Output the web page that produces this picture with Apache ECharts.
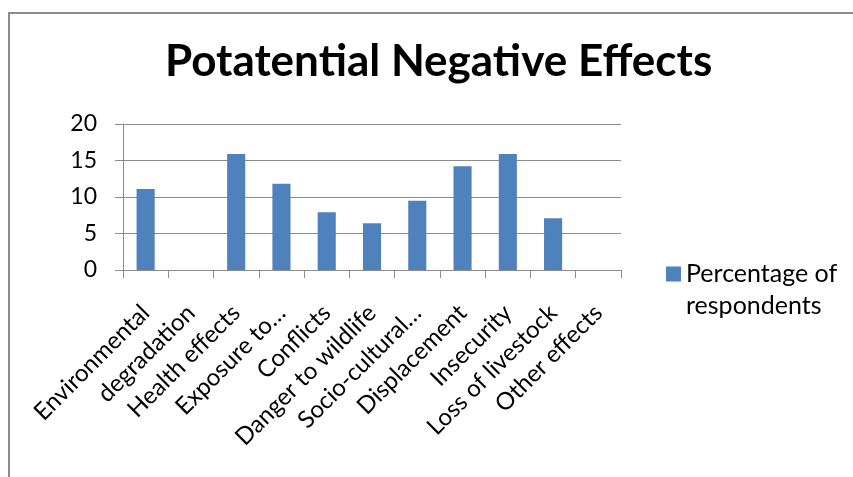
<!DOCTYPE html>
<html>
<head>
<meta charset="utf-8">
<script src="https://cdn.jsdelivr.net/npm/echarts@6/dist/echarts.min.js"></script>
<style>
  html, body { margin: 0; padding: 0; background: #ffffff; }
  #chart { width: 853px; height: 477px; }
</style>
</head>
<body>
<div id="chart"></div>
<script>
// Category labels along the horizontal axis
const categories = [
  'Environmental', 'degradation', 'Health effects', 'Exposure to…',
  'Conflicts', 'Danger to wildlife', 'Socio-cultural…', 'Displacement',
  'Insecurity', 'Loss of livestock', 'Other effects'
];
// Percentage of respondents per effect (empty slots have no bar)
const percentages = [11.1, null, 15.9, 11.8, 7.9, 6.4, 9.5, 14.2, 15.9, 7.1, null];
// Value axis tick labels
const yTicks = [0, 5, 10, 15, 20];

const seriesName = 'Percentage of respondents';
const font = 'Lato';

// Legend swatch: a 15px square at the top of a box two text lines tall,
// so the square sits beside the first line of the wrapped legend label.
const legendIcon = 'path://M0,0H15V15H0ZM0,47L0,47';

const chart = echarts.init(document.getElementById('chart'), null, { renderer: 'canvas' });

chart.setOption({
  backgroundColor: '#ffffff',
  animation: false,
  title: {
    text: 'Potatential Negative Effects',
    left: 160,
    top: 35,
    textStyle: { fontFamily: font, fontWeight: 'bold', fontSize: 44, color: '#000000' }
  },
  graphic: [{
    type: 'rect',
    shape: { x: 9, y: 13, width: 900, height: 500 },
    style: { fill: 'none', stroke: '#8c8c8c', lineWidth: 2 },
    silent: true
  }],
  legend: {
    left: 666,
    top: 258,
    padding: 0,
    orient: 'vertical',
    icon: legendIcon,
    itemWidth: 15,
    itemHeight: 47,
    itemGap: 6,
    data: [seriesName],
    formatter: () => 'Percentage of\nrespondents',
    textStyle: { fontFamily: font, fontSize: 25, color: '#000000', lineHeight: 32 }
  },
  grid: { left: 123, top: 124, width: 498, height: 146, containLabel: false },
  xAxis: {
    type: 'category',
    data: categories,
    axisLine: { show: true, lineStyle: { color: '#8c8c8c', width: 1 } },
    axisTick: { show: true, length: 8, interval: 0, lineStyle: { color: '#8c8c8c' } },
    axisLabel: {
      interval: 0, rotate: 45, margin: 39,
      fontFamily: font, fontSize: 24, color: '#000000'
    }
  },
  yAxis: {
    type: 'value',
    min: yTicks[0],
    max: yTicks[yTicks.length - 1],
    interval: yTicks[1] - yTicks[0],
    axisLine: { show: true, lineStyle: { color: '#8c8c8c', width: 1 } },
    axisTick: { show: true, length: 8, lineStyle: { color: '#8c8c8c' } },
    splitLine: { show: true, lineStyle: { color: '#8c8c8c', width: 1 } },
    axisLabel: { margin: 26, fontFamily: font, fontSize: 23, color: '#000000' }
  },
  series: [{
    name: seriesName,
    type: 'bar',
    data: percentages,
    barCategoryGap: '60%',
    itemStyle: { color: '#4f81bd' }
  }]
});
</script>
</body>
</html>
